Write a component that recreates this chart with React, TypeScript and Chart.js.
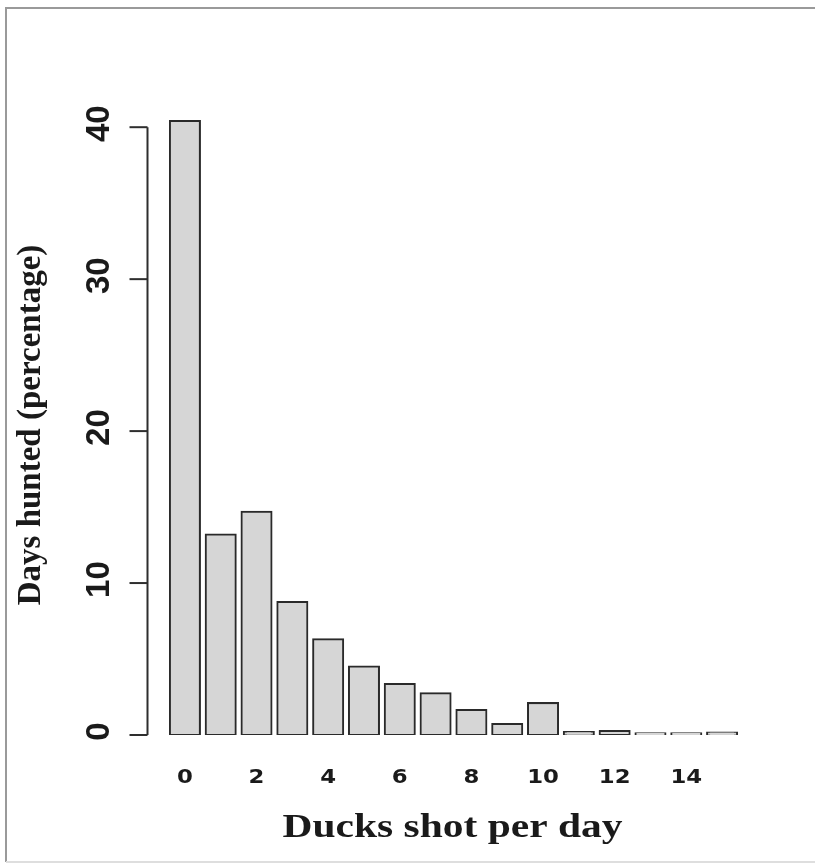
import React, { useEffect, useRef } from "react";
import { Chart, registerables } from "chart.js";

Chart.register(...registerables);

const categories = ["0", "1", "2", "3", "4", "5", "6", "7", "8", "9", "10", "11", "12", "13", "14", "15"];
const values = [40.4, 13.2, 14.7, 8.75, 6.3, 4.5, 3.35, 2.75, 1.65, 0.72, 2.1, 0.2, 0.26, 0.12, 0.12, 0.16];
const yTicks = [0, 10, 20, 30, 40];
const xTickLabels = ["0", "2", "4", "6", "8", "10", "12", "14"];
const xTitle = "Ducks shot per day";
const yTitle = "Days hunted (percentage)";

const rAxesPlugin = {
  id: "rAxes",
  beforeDraw(chart: any) {
    const ctx = chart.ctx;
    ctx.save();
    ctx.fillStyle = "#ffffff";
    ctx.fillRect(0, 0, chart.width, chart.height);
    // outer frame
    ctx.lineWidth = 2;
    ctx.strokeStyle = "#9a9a9a";
    ctx.beginPath();
    ctx.moveTo(6, 862);
    ctx.lineTo(6, 8);
    ctx.lineTo(815, 8);
    ctx.stroke();
    ctx.strokeStyle = "#dedede";
    ctx.beginPath();
    ctx.moveTo(6, 862);
    ctx.lineTo(815, 862);
    ctx.stroke();
    ctx.restore();
  },
  afterDraw(chart: any) {
    const ctx = chart.ctx;
    const y = chart.scales.y;
    const x = chart.scales.x;
    const axisX = chart.chartArea.left - 19.5;
    ctx.save();
    // y axis line
    ctx.strokeStyle = "#2e2e2e";
    ctx.lineWidth = 2;
    ctx.beginPath();
    ctx.moveTo(axisX, y.getPixelForValue(yTicks[0]));
    ctx.lineTo(axisX, y.getPixelForValue(yTicks[yTicks.length - 1]));
    ctx.stroke();
    // ticks + labels
    ctx.fillStyle = "#1a1a1a";
    ctx.font = 'bold 33px "Liberation Sans", Arial, sans-serif';
    ctx.textAlign = "center";
    ctx.textBaseline = "alphabetic";
    yTicks.forEach((v) => {
      const py = y.getPixelForValue(v);
      ctx.beginPath();
      ctx.moveTo(axisX - 18, py);
      ctx.lineTo(axisX, py);
      ctx.stroke();
      ctx.save();
      ctx.translate(109, py - 3.5);
      ctx.rotate(-Math.PI / 2);
      ctx.fillText(String(v), 0, 0);
      ctx.restore();
    });
    // y title
    ctx.save();
    ctx.font = 'bold 33px "Liberation Serif", "Times New Roman", serif';
    ctx.translate(40, 425);
    ctx.rotate(-Math.PI / 2);
    ctx.fillText(yTitle, 0, 0);
    ctx.restore();
    // x tick labels
    ctx.font = 'bold 19px "DejaVu Sans", sans-serif';
    xTickLabels.forEach((lab) => {
      const idx = categories.indexOf(lab);
      const px = x.getPixelForValue(idx);
      ctx.save();
      ctx.translate(px, 783);
      ctx.scale(1.2, 1);
      ctx.fillText(lab, 0, 0);
      ctx.restore();
    });
    // x title
    ctx.save();
    ctx.font = 'bold 33px "Liberation Serif", "Times New Roman", serif';
    const w = ctx.measureText(xTitle).width;
    const cx = (chart.chartArea.left + chart.chartArea.right) / 2 - 1;
    ctx.translate(cx, 837);
    ctx.scale(340 / w, 1);
    ctx.fillText(xTitle, 0, 0);
    ctx.restore();
    ctx.restore();
  },
};

export default function App() {
  const ref = useRef<HTMLCanvasElement | null>(null);
  useEffect(() => {
    if (!ref.current) return;
    const chart = new Chart(ref.current, {
      type: "bar",
      data: {
        labels: categories,
        datasets: [
          {
            data: values,
            backgroundColor: "#d6d6d6",
            borderColor: "#2a2a2a",
            borderWidth: 2,
            borderSkipped: false,
            inflateAmount: 1,
            barPercentage: 0.838,
            categoryPercentage: 1,
          } as any,
        ],
      },
      options: {
        animation: false,
        responsive: false,
        devicePixelRatio: 1,
        layout: { padding: { left: 167, right: 75, top: 112, bottom: 130 } },
        plugins: { legend: { display: false }, tooltip: { enabled: false }, title: { display: false } },
        scales: {
          x: { type: "category", display: false, offset: true },
          y: { type: "linear", display: false, min: 0, max: 41 },
        },
      },
      plugins: [rAxesPlugin],
    });
    return () => chart.destroy();
  }, []);
  return (
    <div style={{ position: "absolute", left: 0, top: 0, width: 815, height: 865 }}>
      <canvas ref={ref} width={815} height={865} style={{ display: "block" }} />
    </div>
  );
}
